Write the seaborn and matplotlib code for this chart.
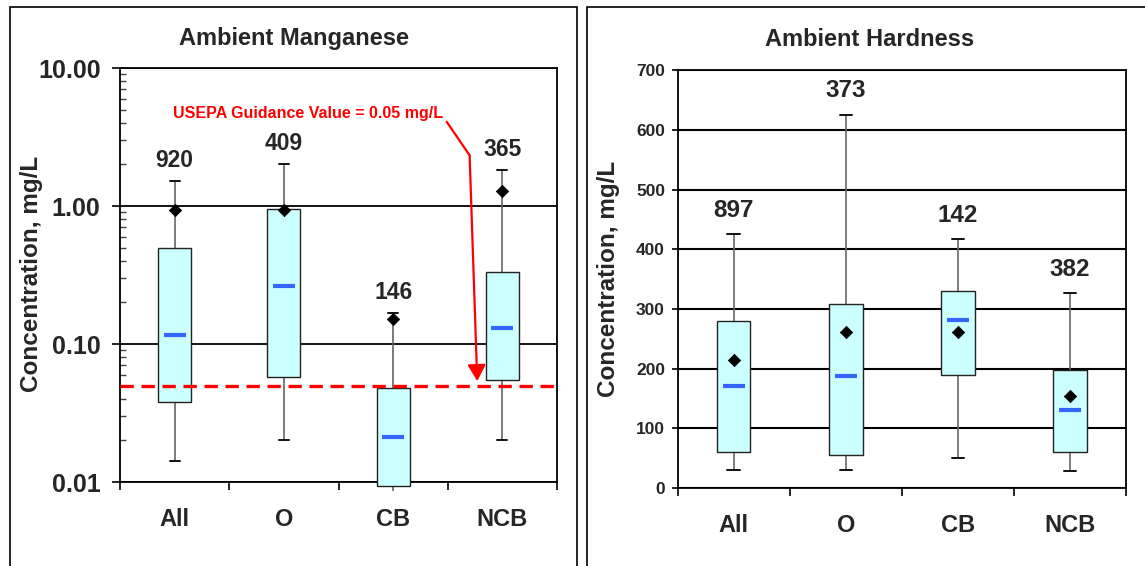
import numpy as np
import pandas as pd
import matplotlib.pyplot as plt
from matplotlib.patches import Rectangle
from matplotlib.ticker import FixedLocator, LogLocator, NullFormatter
import seaborn as sns

groups = ['All', 'O', 'CB', 'NCB']

# Ambient manganese, mg/L
mn_counts = [920, 409, 146, 365]
mn_min = [0.0142, 0.0203, 0.0086, 0.0203]
mn_q1 = [0.038, 0.058, 0.0094, 0.0545]
mn_median = [0.116, 0.262, 0.0212, 0.131]
mn_q3 = [0.50, 0.953, 0.0483, 0.333]
mn_max = [1.51, 2.02, 0.168, 1.81]
mn_mean = [0.93, 0.93, 0.151, 1.29]
mn_guidance = 0.05

# Ambient hardness, mg/L
hd_counts = [897, 373, 142, 382]
hd_min = [30, 30, 50, 28]
hd_q1 = [60, 56, 190, 60]
hd_median = [171, 188, 281, 131]
hd_q3 = [280, 309, 330, 198]
hd_max = [425, 626, 417, 327]
hd_mean = [215, 262, 261, 154]

sns.set_theme(style='white')
plt.rcParams['font.family'] = ['Liberation Sans', 'DejaVu Sans']
plt.rcParams['font.weight'] = 'bold'
plt.rcParams['axes.edgecolor'] = 'black'

fig = plt.figure(figsize=(11.45, 5.66), dpi=100)
W, H = 1145, 566
ax1 = fig.add_axes([120 / W, 1 - 482 / H, 437 / W, 414 / H])
ax2 = fig.add_axes([677.5 / W, 1 - 488 / H, 448.5 / W, 417.6 / H])


def draw_boxes(ax, mins, q1s, meds, q3s, maxs, means, capw):
    # five points per group -> quartiles and whisker ends come out exactly
    long = pd.DataFrame({
        'group': np.repeat(groups, 5),
        'value': np.column_stack([mins, q1s, meds, q3s, maxs]).ravel(),
    })
    sns.boxplot(data=long, x='group', y='value', order=groups, whis=(0, 100),
                width=0.3, color='#ccffff', saturation=1, linecolor='#222222',
                linewidth=1, showfliers=False, capwidths=capw, ax=ax,
                boxprops=dict(clip_on=False, zorder=3),
                whiskerprops=dict(color='#666666', linewidth=1.2, clip_on=False),
                capprops=dict(color='#111111', linewidth=1.4),
                medianprops=dict(visible=False))
    pos = np.arange(len(groups))
    ax.plot(pos, meds, ls='none', marker='_', ms=16, mew=3, color='#3366ff', zorder=4)
    sns.scatterplot(x=pos, y=means, marker='D', color='black', s=40,
                    edgecolor='black', zorder=5, ax=ax)


def style_x(ax):
    ax.set_xlim(-0.5, 3.5)
    ax.set_xticks(range(len(groups)))
    ax.set_xticklabels(groups, fontsize=17, fontweight='bold')
    ax.xaxis.set_minor_locator(FixedLocator(np.arange(-0.5, 4, 1)))
    ax.tick_params(axis='x', which='major', length=0, pad=19)
    ax.tick_params(axis='x', which='minor', direction='out', length=6,
                   width=1.2, color='black', bottom=True)
    ax.set_xlabel('')
    ax.set_ylabel('')
    for s in ax.spines.values():
        s.set_color('black')
        s.set_linewidth(1.3)
        s.set_visible(True)


# ---- left: manganese ----
ax1.set_yscale('log')
draw_boxes(ax1, mn_min, mn_q1, mn_median, mn_q3, mn_max, mn_mean, 0.09)
ax1.set_ylim(0.01, 10)
ax1.set_yticks([0.01, 0.1, 1, 10])
ax1.set_yticklabels(['0.01', '0.10', '1.00', '10.00'], fontsize=18, fontweight='bold')
ax1.yaxis.set_minor_locator(LogLocator(base=10, subs=np.arange(2, 10)))
ax1.yaxis.set_minor_formatter(NullFormatter())
ax1.tick_params(axis='y', which='major', direction='out', length=6, width=1.2,
                color='black', left=True, pad=8)
ax1.tick_params(axis='y', which='minor', direction='in', length=4, width=1,
                color='#444444', left=True)
ax1.yaxis.grid(True, which='major', color='black', linewidth=1.3)
ax1.set_axisbelow(True)
style_x(ax1)

ax1.axhline(mn_guidance, color='#ff0000', lw=2.4, dashes=(4, 2.3), zorder=3.5)
for i, n in enumerate(mn_counts):
    ax1.annotate(str(n), (i, mn_max[i]), xytext=(0, 15), textcoords='offset points',
                 ha='center', va='center', fontsize=16.5, fontweight='bold')

ax1.text(1.217, 4.69, 'USEPA Guidance Value = 0.05 mg/L', color='#ff0000',
         fontsize=11.5, fontweight='bold', ha='center', va='center')
ax1.plot([2.49, 2.70], [4.08, 2.33], color='#ff0000', lw=1.6)
ax1.annotate('', xy=(2.77, 0.0538), xytext=(2.70, 2.33),
             arrowprops=dict(arrowstyle='-|>,head_length=0.45,head_width=0.25',
                             color='#ff0000', lw=1.6, mutation_scale=22,
                             shrinkA=0, shrinkB=0))

# ---- right: hardness ----
draw_boxes(ax2, hd_min, hd_q1, hd_median, hd_q3, hd_max, hd_mean, 0.11)
ax2.set_ylim(0, 700)
ax2.set_yticks(range(0, 701, 100))
ax2.set_yticklabels([str(v) for v in range(0, 701, 100)], fontsize=12.5,
                    fontweight='bold')
ax2.tick_params(axis='y', which='major', direction='out', length=4, width=1.2,
                color='black', left=True, pad=5)
ax2.yaxis.grid(True, which='major', color='black', linewidth=1.5)
ax2.set_axisbelow(True)
style_x(ax2)
for i, n in enumerate(hd_counts):
    ax2.annotate(str(n), (i, hd_max[i]), xytext=(0, 17), textcoords='offset points',
                 ha='center', va='center', fontsize=17.5, fontweight='bold')

# titles, y labels and the chart-area frames
fig.text(294 / W, 1 - 39 / H, 'Ambient Manganese', fontsize=17, fontweight='bold',
         ha='center', va='center')
fig.text(870 / W, 1 - 39 / H, 'Ambient Hardness', fontsize=17, fontweight='bold',
         ha='center', va='center')
fig.text(31.6 / W, 1 - 274 / H, 'Concentration, mg/L', fontsize=17.5,
         fontweight='bold', rotation=90, ha='center', va='center')
fig.text(608 / W, 1 - 279 / H, 'Concentration, mg/L', fontsize=17.5,
         fontweight='bold', rotation=90, ha='center', va='center')

fig.add_artist(Rectangle((10 / W, -0.1), 567 / W, 1.1 - 6.5 / H,
                         transform=fig.transFigure, fill=False, ec='black', lw=1.2))
fig.add_artist(Rectangle((586.5 / W, -0.1), 0.6, 1.1 - 7 / H,
                         transform=fig.transFigure, fill=False, ec='black', lw=1.2))

fig.savefig('out.png', dpi=100)
